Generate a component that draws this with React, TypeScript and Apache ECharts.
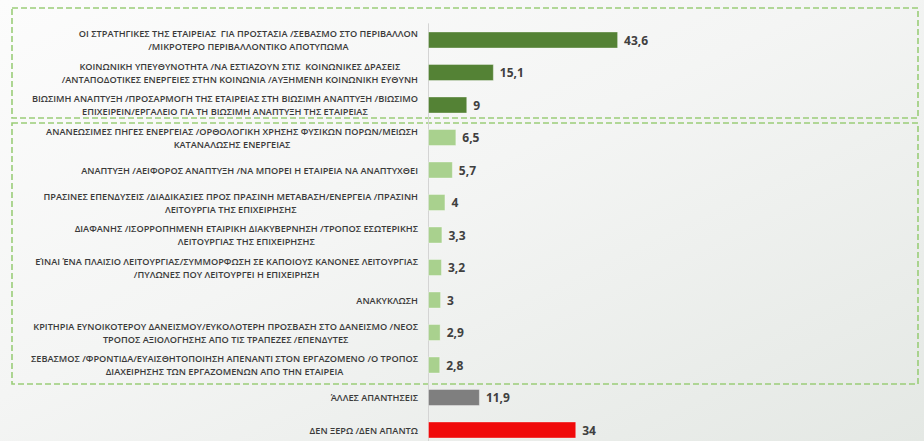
import React, { useEffect, useRef } from "react";
import * as echarts from "echarts";

const categories: string[] = [
  "ΟΙ ΣΤΡΑΤΗΓΙΚΕΣ ΤΗΣ ΕΤΑΙΡΕΙΑΣ  ΓΙΑ ΠΡΟΣΤΑΣΙΑ /ΣΕΒΑΣΜΟ ΣΤΟ ΠΕΡΙΒΑΛΛΟΝ\n/ΜΙΚΡΟΤΕΡΟ ΠΕΡΙΒΑΛΛΟΝΤΙΚΟ ΑΠΟΤΥΠΩΜΑ",
  "ΚΟΙΝΩΝΙΚΗ ΥΠΕΥΘΥΝΟΤΗΤΑ /ΝΑ ΕΣΤΙΑΖΟΥΝ ΣΤΙΣ  ΚΟΙΝΩΝΙΚΕΣ ΔΡΑΣΕΙΣ\n/ΑΝΤΑΠΟΔΟΤΙΚΕΣ ΕΝΕΡΓΕΙΕΣ ΣΤΗΝ ΚΟΙΝΩΝΙΑ /ΑΥΞΗΜΕΝΗ ΚΟΙΝΩΝΙΚΗ ΕΥΘΥΝΗ",
  "ΒΙΩΣΙΜΗ ΑΝΑΠΤΥΞΗ /ΠΡΟΣΑΡΜΟΓΗ ΤΗΣ ΕΤΑΙΡΕΙΑΣ ΣΤΗ ΒΙΩΣΙΜΗ ΑΝΑΠΤΥΞΗ /ΒΙΩΣΙΜΟ\nΕΠΙΧΕΙΡΕΙΝ/ΕΡΓΑΛΕΙΟ ΓΙΑ ΤΗ ΒΙΩΣΙΜΗ ΑΝΑΠΤΥΞΗ ΤΗΣ ΕΤΑΙΡΕΙΑΣ",
  "ΑΝΑΝΕΩΣΙΜΕΣ ΠΗΓΕΣ ΕΝΕΡΓΕΙΑΣ /ΟΡΘΟΛΟΓΙΚΗ ΧΡΗΣΗΣ ΦΥΣΙΚΩΝ ΠΟΡΩΝ/ΜΕΙΩΣΗ\nΚΑΤΑΝΑΛΩΣΗΣ ΕΝΕΡΓΕΙΑΣ",
  "ΑΝΑΠΤΥΞΗ /ΑΕΙΦΟΡΟΣ ΑΝΑΠΤΥΞΗ /ΝΑ ΜΠΟΡΕΙ Η ΕΤΑΙΡΕΙΑ ΝΑ ΑΝΑΠΤΥΧΘΕΙ",
  "ΠΡΑΣΙΝΕΣ ΕΠΕΝΔΥΣΕΙΣ /ΔΙΑΔΙΚΑΣΙΕΣ ΠΡΟΣ ΠΡΑΣΙΝΗ ΜΕΤΑΒΑΣΗ/ΕΝΕΡΓΕΙΑ /ΠΡΑΣΙΝΗ\nΛΕΙΤΟΥΡΓΙΑ ΤΗΣ ΕΠΙΧΕΙΡΗΣΗΣ",
  "ΔΙΑΦΑΝΗΣ /ΙΣΟΡΡΟΠΗΜΕΝΗ ΕΤΑΙΡΙΚΗ ΔΙΑΚΥΒΕΡΝΗΣΗ /ΤΡΟΠΟΣ ΕΣΩΤΕΡΙΚΗΣ\nΛΕΙΤΟΥΡΓΙΑΣ ΤΗΣ ΕΠΙΧΕΙΡΗΣΗΣ",
  "ΕΊΝΑΙ ΈΝΑ ΠΛΑΙΣΙΟ ΛΕΙΤΟΥΡΓΙΑΣ/ΣΥΜΜΟΡΦΩΣΗ ΣΕ ΚΑΠΟΙΟΥΣ ΚΑΝΟΝΕΣ ΛΕΙΤΟΥΡΓΙΑΣ\n/ΠΥΛΩΝΕΣ ΠΟΥ ΛΕΙΤΟΥΡΓΕΙ Η ΕΠΙΧΕΙΡΗΣΗ",
  "ΑΝΑΚΥΚΛΩΣΗ",
  "ΚΡΙΤΗΡΙΑ ΕΥΝΟΙΚΟΤΕΡΟΥ ΔΑΝΕΙΣΜΟΥ/ΕΥΚΟΛΟΤΕΡΗ ΠΡΟΣΒΑΣΗ ΣΤΟ ΔΑΝΕΙΣΜΟ /ΝΕΟΣ\nΤΡΟΠΟΣ ΑΞΙΟΛΟΓΗΣΗΣ ΑΠΟ ΤΙΣ ΤΡΑΠΕΖΕΣ /ΕΠΕΝΔΥΤΕΣ",
  "ΣΕΒΑΣΜΟΣ /ΦΡΟΝΤΙΔΑ/ΕΥΑΙΣΘΗΤΟΠΟΙΗΣΗ ΑΠΕΝΑΝΤΙ ΣΤΟΝ ΕΡΓΑΖΟΜΕΝΟ /Ο ΤΡΟΠΟΣ\nΔΙΑΧΕΙΡΗΣΗΣ ΤΩΝ ΕΡΓΑΖΟΜΕΝΩΝ ΑΠΟ ΤΗΝ ΕΤΑΙΡΕΙΑ",
  "ΆΛΛΕΣ ΑΠΑΝΤΗΣΕΙΣ",
  "ΔΕΝ ΞΕΡΩ /ΔΕΝ ΑΠΑΝΤΩ",
];

const values: number[] = [43.6, 15.1, 9, 6.5, 5.7, 4, 3.3, 3.2, 3, 2.9, 2.8, 11.9, 34];

const DARK_GREEN = "#548235";
const LIGHT_GREEN = "#A9D18E";
const GREY = "#7F7F7F";
const RED = "#F00A0A";

const barColors: string[] = [
  DARK_GREEN, DARK_GREEN, DARK_GREEN,
  LIGHT_GREEN, LIGHT_GREEN, LIGHT_GREEN, LIGHT_GREEN, LIGHT_GREEN,
  LIGHT_GREEN, LIGHT_GREEN, LIGHT_GREEN,
  GREY, RED,
];

export default function App() {
  const ref = useRef<HTMLDivElement>(null);

  useEffect(() => {
    if (!ref.current) return;
    const chart = echarts.init(ref.current, undefined, { renderer: "svg" });
    const dashStyle = {
      fill: "transparent",
      stroke: "#9ACD78",
      lineWidth: 1.6,
      lineDash: [6, 3],
    };
    chart.setOption({
      animation: false,
      backgroundColor: {
        type: "linear",
        x: 0,
        y: 0,
        x2: 1,
        y2: 1,
        colorStops: [
          { offset: 0, color: "#FCFCFC" },
          { offset: 0.45, color: "#F4F5F4" },
          { offset: 1, color: "#E4E8E4" },
        ],
      },
      grid: {
        left: 428,
        top: 23.75,
        height: 422.5,
        width: 436,
        containLabel: false,
        outerBoundsMode: "none",
      },
      xAxis: {
        type: "value",
        min: 0,
        max: 100,
        show: false,
        splitLine: { show: false },
      },
      yAxis: {
        type: "category",
        inverse: true,
        data: categories,
        axisLine: { show: true, lineStyle: { color: "#D4D4D4", width: 1 } },
        axisTick: { show: false },
        axisLabel: {
          interval: 0,
          margin: 10,
          align: "right",
          hideOverlap: false,
          formatter: (v: string) =>
            v
              .split("\n")
              .map((l) => `{a|${l}}`)
              .join("\n"),
          rich: {
            a: {
              align: "center",
              fontFamily: "'Open Sans', 'Liberation Sans', sans-serif",
              fontSize: 9.2,
              fontWeight: 600,
              color: "#3A3A3A",
              lineHeight: 13,
            },
          },
        },
      },
      series: [
        {
          type: "bar",
          barWidth: 17,
          data: values.map((v, i) => ({
            value: v,
            itemStyle: { color: barColors[i], borderColor: "rgba(255,255,255,0.35)", borderWidth: 1 },
          })),
          label: {
            show: true,
            position: "right",
            distance: 6,
            formatter: (p: any) => String(p.value).replace(".", ","),
            fontFamily: "'Open Sans', sans-serif",
            fontWeight: "bold",
            fontSize: 12,
            color: "#404040",
          },
        },
      ],
      graphic: [
        { type: "rect", shape: { x: 12, y: 8, width: 906, height: 110 }, style: dashStyle, silent: true },
        { type: "rect", shape: { x: 12, y: 123, width: 906, height: 261 }, style: dashStyle, silent: true },
      ],
    });
    return () => chart.dispose();
  }, []);

  return (
    <div
      ref={ref}
      style={{ position: "absolute", left: 0, top: 0, width: 924, height: 441 }}
    />
  );
}
